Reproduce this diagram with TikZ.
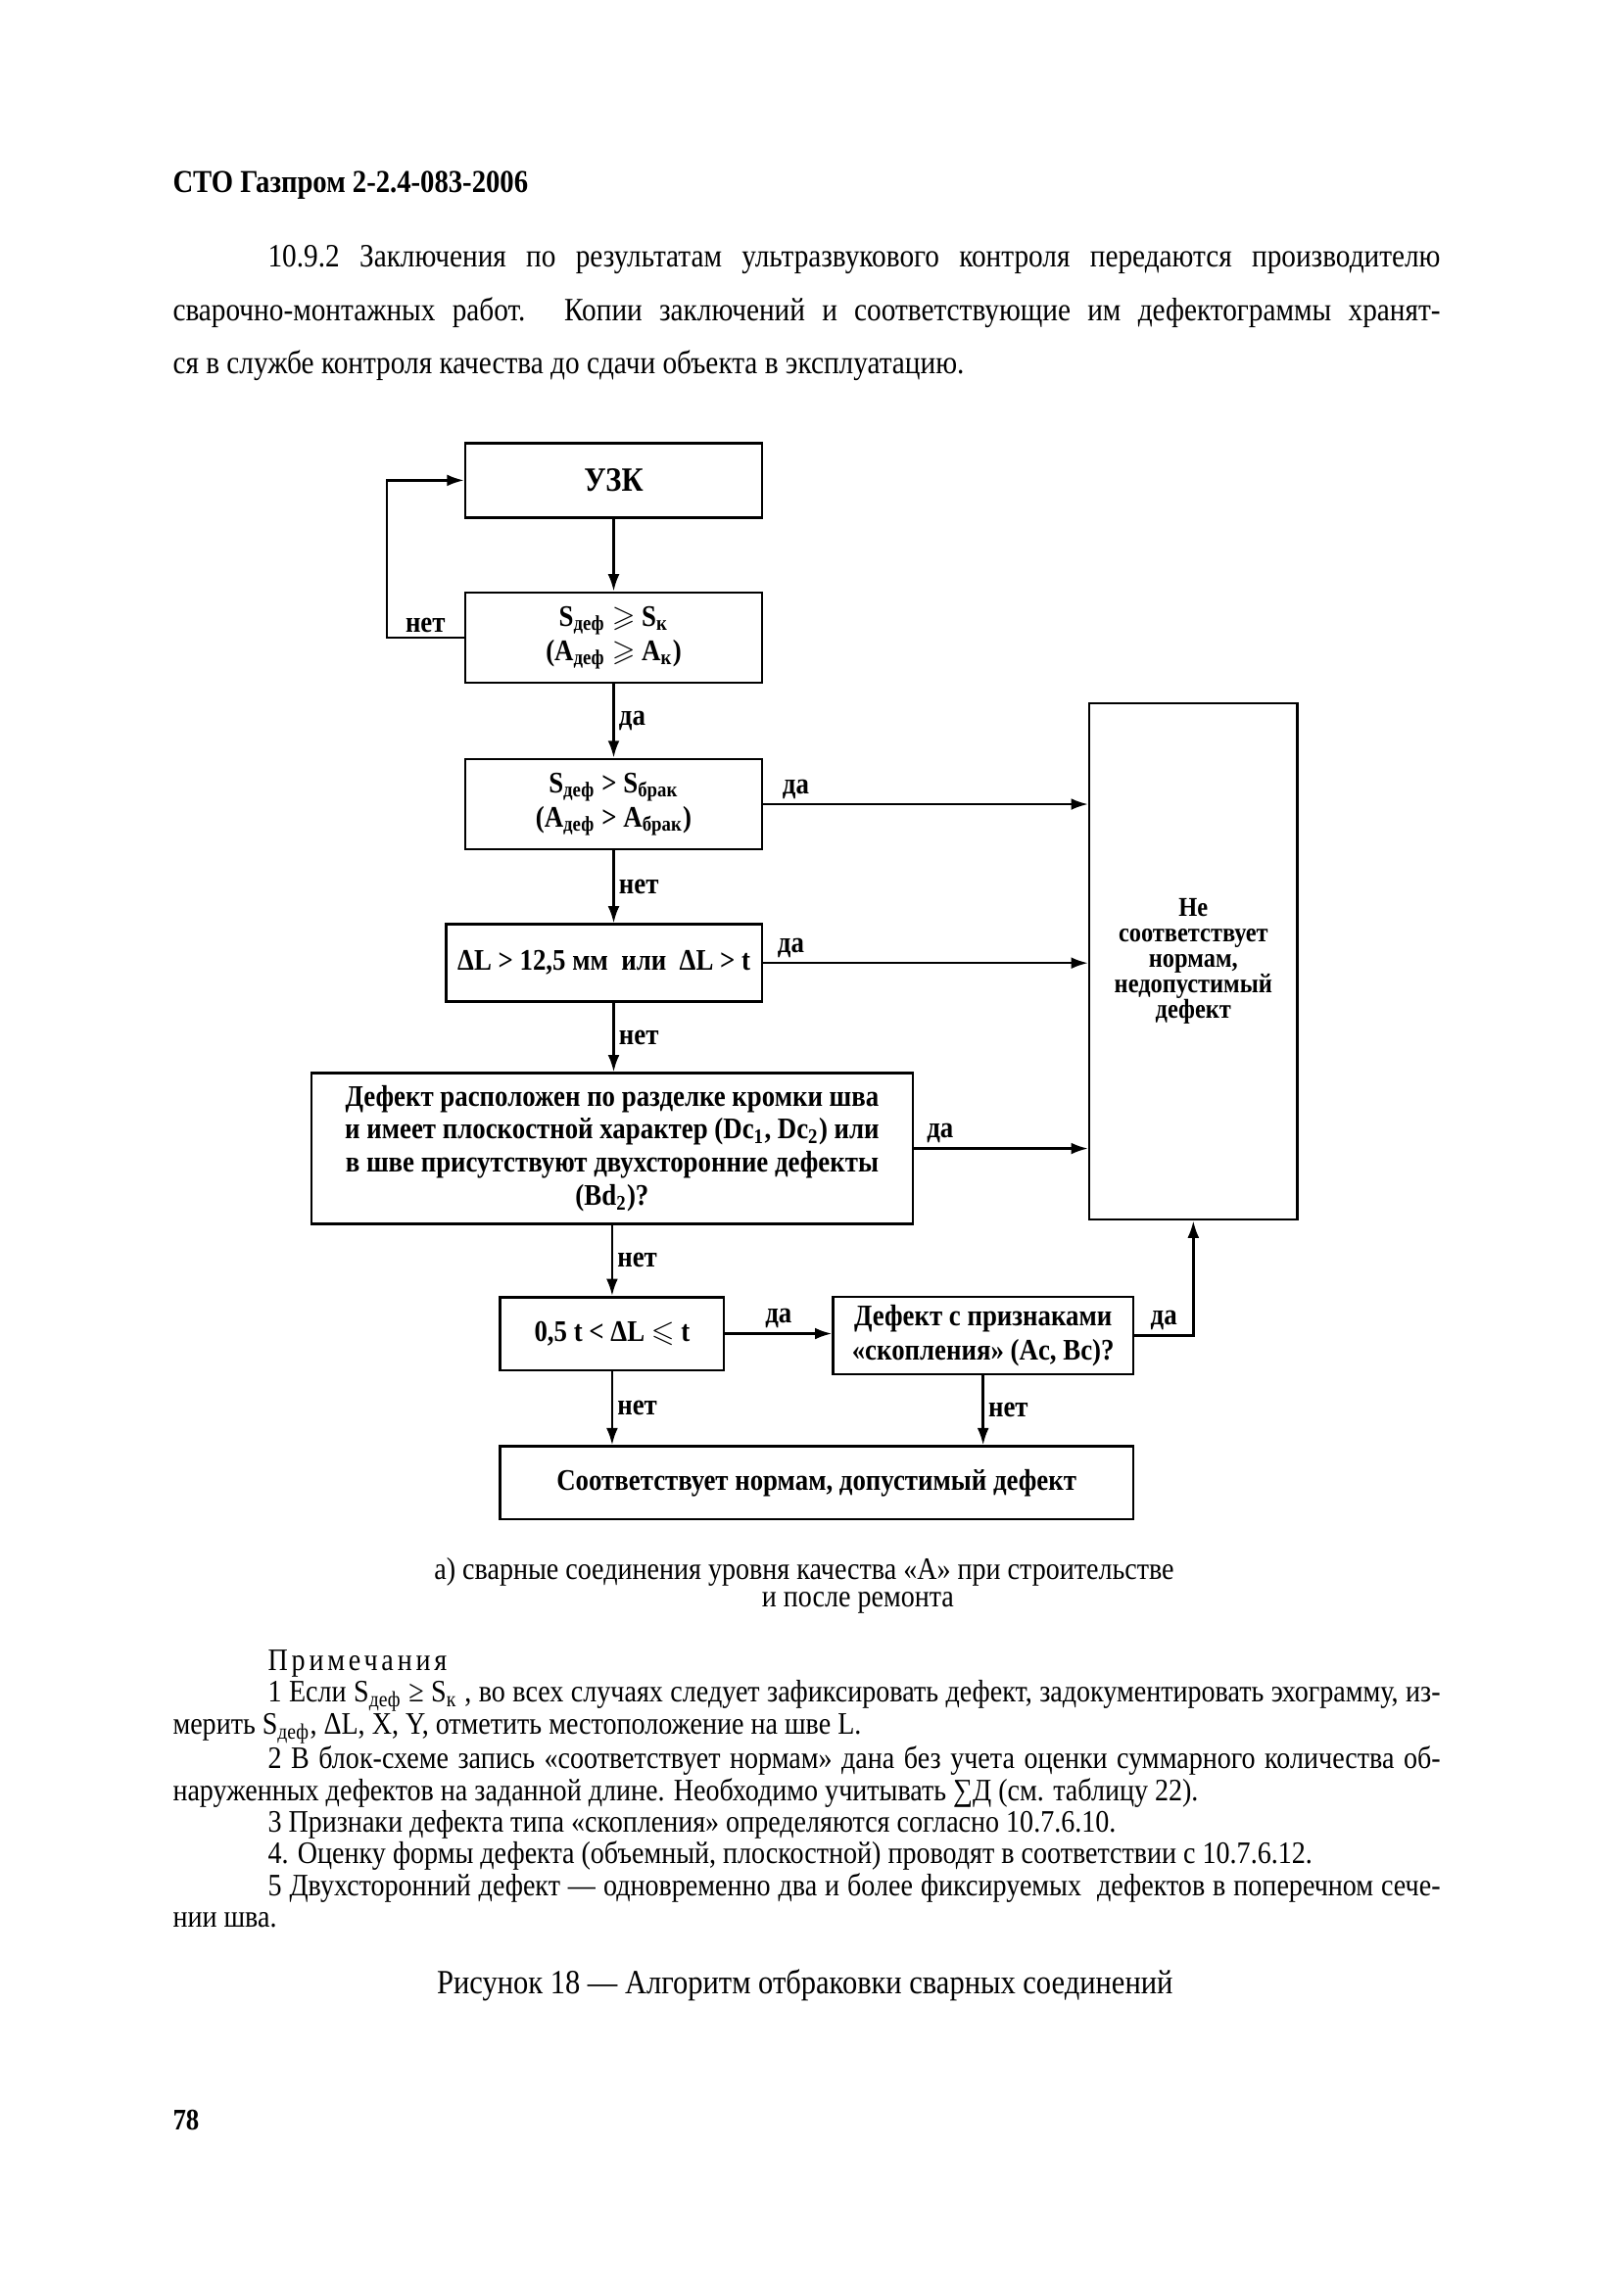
\documentclass[tikz,border=0pt]{standalone}
\usepackage{amssymb}
\usepackage{fontspec}
\setmainfont{Liberation Serif}[FakeStretch=0.88]
\usetikzlibrary{arrows.meta,positioning}

\newcommand\boxfont{\fontsize{11}{12.6}\selectfont\bfseries\boldmath}
\newcommand\lblfont{\fontsize{11}{12}\selectfont\bfseries}
\newcommand\inx[1]{\textsubscript{#1}}
\newcommand\nohyph{\hyphenpenalty=10000\exhyphenpenalty=10000\tolerance=9999}

\begin{document}
\begin{tikzpicture}[
  x=1mm, y=-1mm,
  box/.style={draw, line width=0.9pt, align=center, inner sep=1pt, font=\boxfont},
  arr/.style={-{Latex[length=2.2mm,width=1.5mm]}, line width=0.9pt},
  lbl/.style={font=\lblfont, inner sep=1.5pt},
  txt/.style={inner sep=0pt, anchor=north west, align=justify}
]
\useasboundingbox (0,0) rectangle (210,296.68);

% page text above the figure
\node[anchor=west, inner sep=0pt, font=\fontsize{11.75}{13}\selectfont\bfseries] (head) at (22.3,24.0) {СТО Газпром 2-2.4-083-2006};
\node[txt, text width=164mm, font={\fontsize{12}{19.6}\selectfont\nohyph}] (intro) at (22.3,31.7)
  {\hspace*{12.3mm}10.9.2 Заключения по результатам ультразвукового контроля передаются производителю\linebreak
   сварочно-монтажных работ. Копии заключений и соответствующие им дефектограммы хранят-\linebreak
   ся в службе контроля качества до сдачи объекта в эксплуатацию.};

% flowchart
\node[box, minimum width=38.4mm, minimum height=9.65mm, font=\fontsize{12.5}{14}\selectfont\bfseries] (uzk) at (79.4,62.15) {УЗК};
\node[box, minimum width=38.4mm, minimum height=11.7mm] (sk) at (79.4,82.5)
  {S\inx{деф} $\geqslant$ S\inx{к}\\(A\inx{деф} $\geqslant$ A\inx{к})};
\node[box, minimum width=38.4mm, minimum height=11.7mm] (sbr) at (79.4,104.05)
  {S\inx{деф} > S\inx{брак}\\(A\inx{деф} > A\inx{брак})};
\node[box, minimum width=40.9mm, minimum height=10mm] (dl) at (78.15,124.6)
  {ΔL > 12,5 мм\ \ или\ \ ΔL > t};
\node[box, minimum width=77.8mm, minimum height=19.5mm, font={\boxfont\baselineskip=12.2pt}] (plosk) at (79.2,148.6)
  {Дефект расположен по разделке кромки шва\\и имеет плоскостной характер (Dc\inx{1}, Dc\inx{2}) или\\в шве присутствуют двухсторонние дефекты\\(Bd\inx{2})?};
\node[box, minimum width=26.9mm, minimum height=66.8mm, font={\fontsize{10}{9.4}\selectfont\bfseries}] (brak) at (154.4,124.4)
  {Не\\соответствует\\нормам,\\недопустимый\\дефект};
\node[box, minimum width=28.95mm, minimum height=9.45mm] (half) at (79.2,172.55)
  {0,5 t < ΔL $\leqslant$ t};
\node[box, minimum width=38.8mm, minimum height=10mm] (skop) at (127.2,172.8)
  {Дефект с признаками\\«скопления» (Ac, Bc)?};
\node[box, minimum width=81.9mm, minimum height=9.45mm] (norm) at (105.65,191.85)
  {Соответствует нормам, допустимый дефект};

\draw[arr] (uzk.south) -- (sk.north);
\draw[arr] (sk.west) -- node[lbl, above] {нет} ++(-10,0) |- (uzk.west);
\draw[arr] (sk.south) -- node[lbl, right] {да} (sbr.north);
\draw[arr] (sbr.east) -- node[lbl, above, pos=0.1] {да} (sbr.east -| brak.west);
\draw[arr] (sbr.south) -- node[lbl, right] {нет} (sbr.south |- dl.north);
\draw[arr] (dl.east) -- node[lbl, above, pos=0.085] {да} (dl.east -| brak.west);
\draw[arr] (sbr.south |- dl.south) -- node[lbl, right] {нет} (sbr.south |- plosk.north);
\draw[arr] (plosk.east) -- node[lbl, above, pos=0.15] {да} (plosk.east -| brak.west);
\draw[arr] (plosk.south) -- node[lbl, right] {нет} (half.north);
\draw[arr] (half.east) -- node[lbl, above] {да} (half.east -| skop.west);
\draw[arr] (skop.east) -- node[lbl, above] {да} (skop.east -| brak.south) -- (brak.south);
\draw[arr] (half.south) -- node[lbl, right] {нет} (half.south |- norm.north);
\draw[arr] (skop.south) -- node[lbl, right] {нет} (skop.south |- norm.north);

% captions and notes
\node[inner sep=0pt, font=\fontsize{11.5}{13}\selectfont] (cap1) at (104.05,203.4)
  {а) сварные соединения уровня качества «А» при строительстве};
\node[inner sep=0pt, font=\fontsize{11.5}{13}\selectfont] (cap2) at (111.0,207.35) {и после ремонта};
\node[txt, text width=164mm, font={\fontsize{11.5}{11.7}\selectfont\nohyph}] (notes) at (22.3,213.4)
  {\hspace*{12.3mm}{\addfontfeature{LetterSpace=12}Примечания}\par
   \hspace*{12.3mm}1 Если S\inx{деф} ≥ S\inx{к} , во всех случаях следует зафиксировать дефект, задокументировать эхограмму, из-\linebreak
   мерить S\inx{деф}, ΔL, X, Y, отметить местоположение на шве L.\par
   \hspace*{12.3mm}2 В блок-схеме запись «соответствует нормам» дана без учета оценки суммарного количества об-\linebreak
   наруженных дефектов на заданной длине. Необходимо учитывать ∑Д (см. таблицу 22).\par
   \hspace*{12.3mm}3 Признаки дефекта типа «скопления» определяются согласно 10.7.6.10.\par
   \hspace*{12.3mm}4. Оценку формы дефекта (объемный, плоскостной) проводят в соответствии с 10.7.6.12.\par
   \hspace*{12.3mm}5 Двухсторонний дефект — одновременно два и более фиксируемых\ \ дефектов в поперечном сече-\linebreak
   нии шва.};
\node[inner sep=0pt, font=\fontsize{12.5}{14}\selectfont] (title) at (104.15,256.9)
  {Рисунок 18 — Алгоритм отбраковки сварных соединений};
\node[anchor=west, inner sep=0pt, font=\fontsize{11}{13}\selectfont\bfseries] (page) at (22.3,274.3) {78};
\end{tikzpicture}
\end{document}
